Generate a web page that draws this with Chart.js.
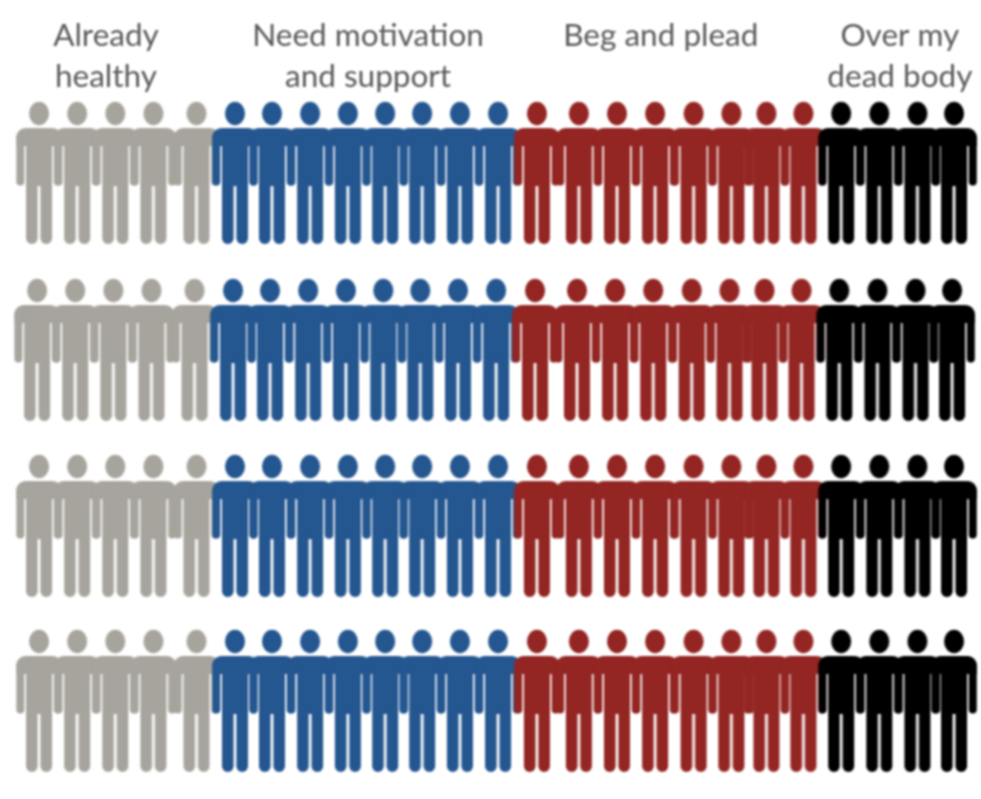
<!DOCTYPE html>
<html><head><meta charset="utf-8">
<style>html,body{margin:0;padding:0;background:#fff}#wrap{width:981px;height:799px}canvas{filter:blur(.8px)}</style>
<script src="https://cdn.jsdelivr.net/npm/chart.js@4"></script>
</head><body><div id="wrap"><canvas id="c" width="981" height="799"></canvas></div>
<script>
// Data
const categories = ['Already healthy','Need motivation and support','Beg and plead','Over my dead body'];
const categoryLines = [['Already','healthy'],['Need motivation','and support'],['Beg and plead',''],['Over my','dead body']];
const peoplePerCategory = [5,8,8,4];
const seatSlots = [0,1,2,3,4.13,5.14,6.11,7.11,8.1,9.08,10.05,11.04,12.04,13.06,14.16,15.16,16.16,17.17,18.16,19.08,20.05,21.04,22.04,23.04,24];
const rowPositions = [0,1.006,2.006,3];
const rowSlotShift = [0,-0.05,0,0];
const categoryCentres = [1.757,8.63,16.31,22.58];
const categoryColours = ['#A6A49C','#245690','#932522','#000000'];

function personIcon(colour){
  const c=document.createElement('canvas');c.width=48;c.height=144;
  const g=c.getContext('2d');g.fillStyle=colour;const cx=24;
  g.beginPath();g.ellipse(cx,12.5,10,11.7,0,0,Math.PI*2);g.fill();
  // torso + shoulders
  g.beginPath();g.roundRect(cx-22.7,27,45.4,18,[9,9,0,0]);g.fill();
  g.fillRect(cx-13,40,26,45);
  // arms
  g.beginPath();g.roundRect(cx-22.7,35,8,49.5,[0,0,4,4]);g.fill();
  g.beginPath();g.roundRect(cx+14.7,35,8,49.5,[0,0,4,4]);g.fill();
  // legs
  g.beginPath();g.roundRect(cx-13,80,11.6,63,[0,0,5.8,5.8]);g.fill();
  g.beginPath();g.roundRect(cx+1.4,80,11.6,63,[0,0,5.8,5.8]);g.fill();
  return c;
}

let first=0;
const datasets=categories.map((name,i)=>{
  const pts=[];
  rowPositions.forEach((y,r)=>{
    for(let k=0;k<peoplePerCategory[i];k++) pts.push({x:seatSlots[first+k]+rowSlotShift[r],y});
  });
  first+=peoplePerCategory[i];
  return {label:name,data:pts,order:-i,pointStyle:personIcon(categoryColours[i]),pointRadius:5,pointHoverRadius:5,clip:false,showLine:false};
});

new Chart(document.getElementById('c'),{
  type:'scatter',
  data:{datasets},
  options:{
    responsive:false,animation:false,
    layout:{padding:0,autoPadding:false},
    plugins:{legend:{display:false},tooltip:{enabled:false}},
    scales:{
      x:{type:'linear',position:'top',min:-1.023,max:24.708,
        grid:{display:false},border:{display:false},
        afterFit(s){s.height=110;s.paddingLeft=0;s.paddingRight=0;},
        afterBuildTicks(s){s.ticks=categoryCentres.map(value=>({value}));},
        ticks:{autoSkip:false,maxRotation:0,minRotation:0,padding:5,color:'#595959',
          font:{family:'Lato',size:31.5,lineHeight:1.3},
          callback(v,i){return categoryLines[i];}}
      },
      y:{type:'linear',display:false,reverse:true,min:-0.358,max:3.557}
    }
  }
});
</script></body></html>
